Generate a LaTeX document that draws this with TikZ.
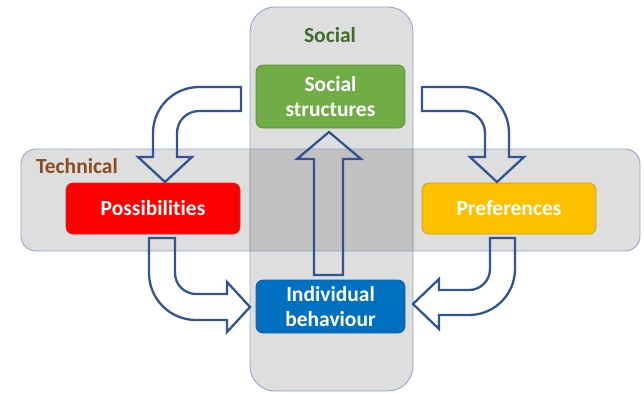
\documentclass[tikz,border=0pt]{standalone}
\usepackage{fontspec}
\setmainfont[Ligatures={NoCommon}]{Carlito}
\definecolor{arrowblue}{HTML}{2F5597}
\definecolor{panelline}{HTML}{8FA6CF}
\definecolor{socgreen}{HTML}{70AD47}
\definecolor{socgreenb}{HTML}{5B9139}
\definecolor{possred}{HTML}{FF0000}
\definecolor{possredb}{HTML}{C03030}
\definecolor{prefyel}{HTML}{FFC000}
\definecolor{prefyelb}{HTML}{C8A020}
\definecolor{indblue}{HTML}{0070C0}
\definecolor{indblueb}{HTML}{1A5A96}
\definecolor{labgreen}{HTML}{3F6B2B}
\definecolor{labbrown}{HTML}{8B4B20}
\begin{document}
\begin{tikzpicture}[x=1pt,y=-1pt,
  panel/.style={draw=panelline, line width=0.9pt, fill=black, fill opacity=0.13},
  boxnode/.style={rounded corners=7pt, line width=0.8pt, text=white, align=center,
    inner sep=0pt, font=\fontsize{21.5}{25}\selectfont\bfseries},
  panellabel/.style={font=\fontsize{21.5}{25}\selectfont\bfseries, inner sep=0pt},
  blockarrow/.style={draw=arrowblue, line width=2.3pt, line join=miter}]
\useasboundingbox (0,0) rectangle (644,392);
% panels
\draw[panel, rounded corners=25pt] (250,7) rectangle (413,391);
\draw[panel, rounded corners=15pt] (21,149) rectangle (640,251);
\node[panellabel, text=labgreen] (soclab) at (330,35) {Social};
\node[panellabel, text=labbrown] (techlab) at (77,166) {Technical};
% boxes
\node[boxnode, fill=socgreen, draw=socgreenb, minimum width=149pt, minimum height=63pt] (soc) at (330.5,96.5) {Social\\structures};
\node[boxnode, fill=possred, draw=possredb, minimum width=174pt, minimum height=51pt] (poss) at (153,208.5) {Possibilities};
\node[boxnode, fill=prefyel, draw=prefyelb, minimum width=174pt, minimum height=51pt] (pref) at (509,208.5) {Preferences};
\node[boxnode, fill=indblue, draw=indblueb, minimum width=149pt, minimum height=53pt] (ind) at (330.5,306.5) {Individual\\behaviour};
% block arrows
\draw[blockarrow] (241,87) -- (199,87) .. controls (173.6,87) and (153,107.6) .. (153,133) -- (153,157) -- (138,157) -- (165,182) -- (192,157) -- (177,157) -- (177,133) .. controls (177,120.85) and (186.85,111) .. (199,111) -- (241,111) -- cycle;
\draw[blockarrow] (422,87) -- (463,87) .. controls (488.4,87) and (509,107.6) .. (509,133) -- (509,157) -- (524,157) -- (497,182) -- (470,157) -- (485,157) -- (485,133) .. controls (485,120.85) and (475.15,111) .. (463,111) -- (422,111) -- cycle;
\draw[blockarrow] (149,238) -- (149,273) .. controls (149,299) and (170,320) .. (196,320) -- (227,320) -- (227,332) -- (250,307) -- (227,282) -- (227,294) -- (196,294) .. controls (184.4,294) and (175,284.6) .. (175,273) -- (175,238) -- cycle;
\draw[blockarrow] (515,238) -- (515,269) .. controls (515,294.4) and (494.4,315) .. (469,315) -- (439,315) -- (439,329) -- (413,304) -- (439,279) -- (439,290) -- (469,290) .. controls (480.6,290) and (490,280.6) .. (490,269) -- (490,238) -- cycle;
\draw[blockarrow] (314,275) -- (314,159) -- (297,159) -- (329,132) -- (361,159) -- (343,159) -- (343,275) -- cycle;
\end{tikzpicture}
\end{document}
